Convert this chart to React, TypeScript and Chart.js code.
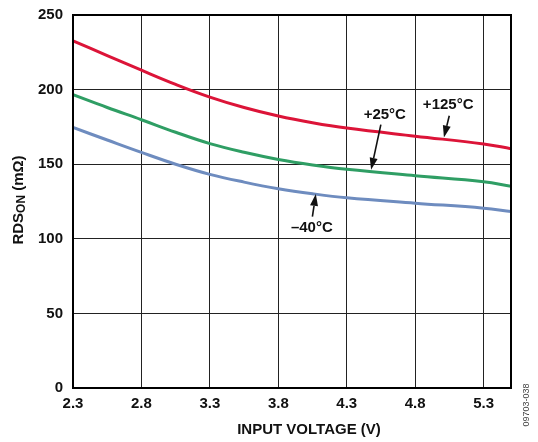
import React, { useEffect, useRef } from "react";
import { Chart, registerables } from "chart.js";

Chart.register(...registerables);

const voltages = [2.3, 2.55, 2.8, 3.05, 3.3, 3.55, 3.8, 4.05, 4.3, 4.8, 5.3, 5.5];
const rdsHot = [232.7, 222.8, 213.0, 203.5, 195.0, 188.0, 182.3, 177.8, 174.2, 168.8, 163.6, 160.4];
const rdsRoom = [196.6, 188.0, 179.8, 171.4, 163.8, 158.0, 153.2, 149.5, 146.6, 142.3, 138.3, 135.2];
const rdsCold = [174.6, 166.2, 157.9, 150.0, 143.2, 138.0, 133.6, 130.2, 127.5, 123.9, 120.5, 118.3];

const xTicks = [2.3, 2.8, 3.3, 3.8, 4.3, 4.8, 5.3];
const yTicks = [0, 50, 100, 150, 200, 250];

const seriesNames = ["+125°C", "+25°C", "–40°C"];
const seriesColors = ["#dc1438", "#2f9e64", "#6e8cbf"];

// annotation label position and arrow (tail -> tip) in data coordinates
const labelX = [5.041, 4.578, 4.045];
const labelY = [189.9, 183.2, 107.5];
const arrowFromX = [5.049, 4.549, 4.049];
const arrowFromY = [182.5, 176.5, 114.9];
const arrowToX = [5.01, 4.478, 4.074];
const arrowToY = [167.9, 146.2, 130.1];

const FONT = "'Liberation Sans', Arial, sans-serif";

const decorPlugin = {
  id: "decor",
  afterDatasetsDraw(chart: any) {
    const ctx = chart.ctx;
    const { left, right, top, bottom } = chart.chartArea;
    const xs = chart.scales.x;
    const ys = chart.scales.y;
    ctx.save();
    // frame
    ctx.strokeStyle = "#000";
    ctx.lineWidth = 2;
    ctx.strokeRect(left, top, right - left, bottom - top);

    // annotations
    ctx.fillStyle = "#111";
    ctx.font = `bold 15px ${FONT}`;
    ctx.textAlign = "center";
    ctx.textBaseline = "middle";
    for (let i = 0; i < seriesNames.length; i++) {
      ctx.fillText(seriesNames[i], xs.getPixelForValue(labelX[i]), ys.getPixelForValue(labelY[i]));
      const x1 = xs.getPixelForValue(arrowFromX[i]);
      const y1 = ys.getPixelForValue(arrowFromY[i]);
      const x2 = xs.getPixelForValue(arrowToX[i]);
      const y2 = ys.getPixelForValue(arrowToY[i]);
      const ang = Math.atan2(y2 - y1, x2 - x1);
      const headLen = 12;
      const headW = 4;
      const bx = x2 - headLen * Math.cos(ang);
      const by = y2 - headLen * Math.sin(ang);
      ctx.strokeStyle = "#111";
      ctx.lineWidth = 1.6;
      ctx.beginPath();
      ctx.moveTo(x1, y1);
      ctx.lineTo(bx, by);
      ctx.stroke();
      ctx.beginPath();
      ctx.moveTo(x2, y2);
      ctx.lineTo(bx + headW * Math.sin(ang), by - headW * Math.cos(ang));
      ctx.lineTo(bx - headW * Math.sin(ang), by + headW * Math.cos(ang));
      ctx.closePath();
      ctx.fill();
    }

    // x-axis title
    ctx.fillStyle = "#111";
    ctx.font = `bold 15px ${FONT}`;
    ctx.textAlign = "center";
    ctx.textBaseline = "middle";
    ctx.fillText("INPUT VOLTAGE (V)", 309, 430);

    // y-axis title with subscript, rotated
    ctx.save();
    ctx.translate(19, 200);
    ctx.rotate(-Math.PI / 2);
    const mainFont = `bold 15px ${FONT}`;
    const subFont = `bold 12px ${FONT}`;
    ctx.font = mainFont;
    const w1 = ctx.measureText("RDS").width;
    const w3 = ctx.measureText(" (mΩ)").width;
    ctx.font = subFont;
    const w2 = ctx.measureText("ON").width;
    const total = w1 + w2 + w3;
    let cx = -total / 2;
    ctx.textAlign = "left";
    ctx.textBaseline = "middle";
    ctx.font = mainFont;
    ctx.fillText("RDS", cx, 0);
    cx += w1;
    ctx.font = subFont;
    ctx.fillText("ON", cx, 3);
    cx += w2;
    ctx.font = mainFont;
    ctx.fillText(" (mΩ)", cx, 0);
    ctx.restore();

    // figure code
    ctx.save();
    ctx.translate(527, 405);
    ctx.rotate(-Math.PI / 2);
    ctx.fillStyle = "#444";
    ctx.font = `9px ${FONT}`;
    ctx.textAlign = "center";
    ctx.textBaseline = "middle";
    ctx.fillText("09703-038", 0, 0);
    ctx.restore();

    ctx.restore();
  },
};

export default function App() {
  const ref = useRef<HTMLCanvasElement | null>(null);

  useEffect(() => {
    document.body.style.margin = "0";
    const canvas = ref.current;
    if (!canvas) return;
    const series = [rdsHot, rdsRoom, rdsCold];
    const chart = new Chart(canvas, {
      type: "line",
      data: {
        datasets: series.map((vals, i) => ({
          label: seriesNames[i],
          data: voltages.map((v, j) => ({ x: v, y: vals[j] })),
          borderColor: seriesColors[i],
          backgroundColor: seriesColors[i],
          borderWidth: 3,
          pointRadius: 0,
          tension: 0.4,
          fill: false,
        })),
      },
      options: {
        animation: false,
        responsive: false,
        maintainAspectRatio: false,
        layout: { padding: { top: 15, right: 27, left: 0, bottom: 0 } },
        plugins: { legend: { display: false }, tooltip: { enabled: false } },
        scales: {
          x: {
            type: "linear",
            min: 2.3,
            max: 5.5,
            afterBuildTicks: (scale: any) => {
              scale.ticks = xTicks.map((v) => ({ value: v }));
            },
            afterFit: (scale: any) => {
              scale.height = 54;
              scale.paddingLeft = 0;
              scale.paddingRight = 0;
            },
            grid: { color: "#222", lineWidth: 1, drawTicks: false },
            border: { display: false },
            ticks: {
              color: "#111",
              font: { family: FONT, size: 15, weight: "bold" },
              padding: 7,
              maxRotation: 0,
              autoSkip: false,
              callback: (v: any) => Number(v).toFixed(1),
            },
          },
          y: {
            type: "linear",
            min: 0,
            max: 250,
            afterBuildTicks: (scale: any) => {
              scale.ticks = yTicks.map((v) => ({ value: v }));
            },
            afterFit: (scale: any) => {
              scale.width = 73;
              scale.paddingTop = 0;
              scale.paddingBottom = 0;
            },
            grid: { color: "#222", lineWidth: 1, drawTicks: false },
            border: { display: false },
            ticks: {
              color: "#111",
              font: { family: FONT, size: 15, weight: "bold" },
              padding: 10,
              autoSkip: false,
            },
          },
        },
      },
      plugins: [decorPlugin],
    });
    return () => chart.destroy();
  }, []);

  return (
    <div style={{ width: 538, height: 442 }}>
      <canvas ref={ref} width={538} height={442} style={{ display: "block" }} />
    </div>
  );
}
